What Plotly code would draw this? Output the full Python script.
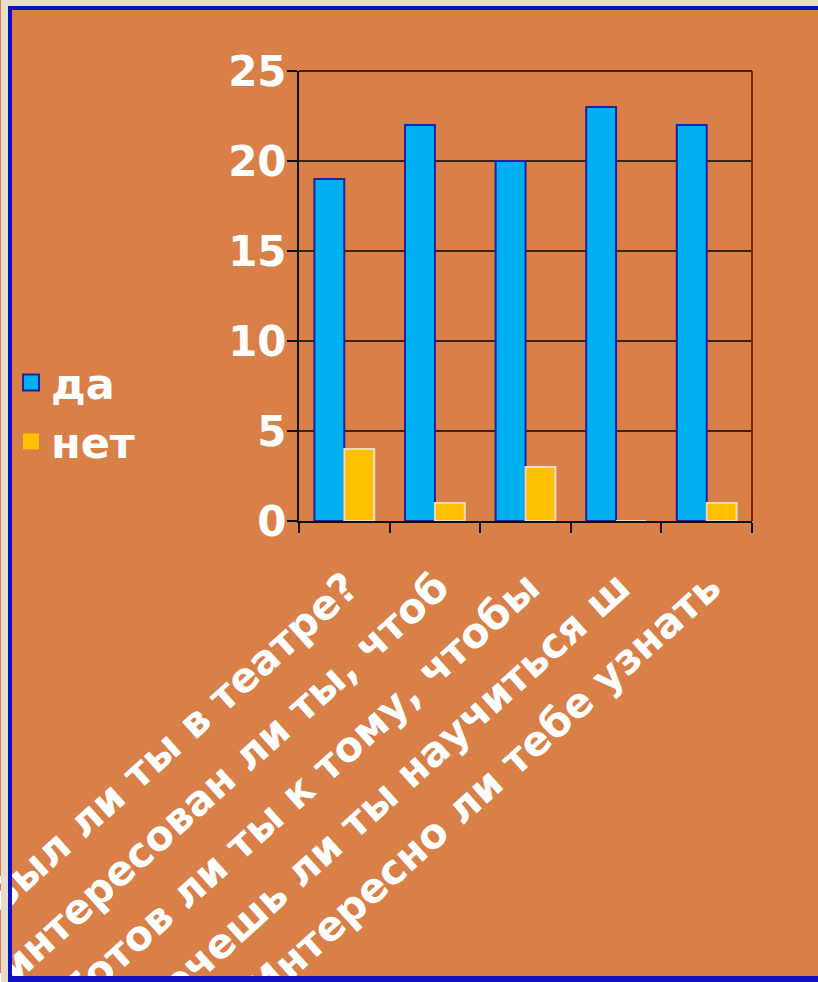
import plotly.graph_objects as go

categories = [
    "Был ли ты в театре?",
    "Заинтересован ли ты, чтоб",
    "Готов ли ты к тому, чтобы",
    "Хочешь ли ты научиться ш",
    "Интересно ли тебе узнать",
]
da_values = [19, 22, 20, 23, 22]
net_values = [4, 1, 3, 0, 1]
series_names = ["да", "нет"]
y_ticks = [0, 5, 10, 15, 20, 25]

ORANGE = "#D97F48"
BEIGE = "#E6DDCB"
FRAME = "#1010C0"
BLUE = "#00B0F0"
YELLOW = "#FFC000"
FONT = "DejaVu Sans"

fig = go.Figure()
fig.add_trace(go.Bar(x=categories, y=da_values, name=series_names[0], showlegend=False,
                     marker=dict(color=BLUE, line=dict(color="#2222A0", width=2))))
fig.add_trace(go.Bar(x=categories, y=net_values, name=series_names[1], showlegend=False,
                     marker=dict(color=YELLOW, line=dict(color="#E9DCC0", width=2))))
# legend entries
fig.add_trace(go.Scatter(x=[None], y=[None], mode="markers", name=series_names[0],
                         marker=dict(symbol="square", size=16, color=BLUE,
                                     line=dict(color="#2222A0", width=2))))
fig.add_trace(go.Scatter(x=[None], y=[None], mode="markers", name=series_names[1],
                         marker=dict(symbol="square", size=16, color=YELLOW,
                                     line=dict(color=YELLOW, width=0))))

W, H = 818, 982
L, R, T, B = 298, 66, 71, 461

fig.update_layout(
    width=W, height=H,
    margin=dict(l=L, r=R, t=T, b=B, pad=0),
    paper_bgcolor=ORANGE,
    plot_bgcolor="rgba(0,0,0,0)",
    barmode="group",
    bargap=0.34,
    bargroupgap=0,
    font=dict(family=FONT, color="white", weight="bold"),
    showlegend=True,
    legend=dict(
        x=(11 - L) / (W - L - R), y=(H - B - 348) / (H - T - B),
        xanchor="left", yanchor="top",
        bgcolor="rgba(0,0,0,0)",
        font=dict(family=FONT, size=43, color="white", weight="bold"),
        itemwidth=30,
        tracegroupgap=0,
    ),
    xaxis=dict(
        type="category",
        tickangle=-42,
        tickfont=dict(family=FONT, size=41, color="white", weight="bold"),
        ticklabelstandoff=24,
        ticklabelshift=3,
        showline=True, linecolor="#111111", linewidth=2,
        ticks="outside", tickson="boundaries", ticklen=10, tickcolor="#111111", tickwidth=2,
        showgrid=False,
        automargin=False,
    ),
    yaxis=dict(
        range=[0, 25],
        tickvals=y_ticks,
        tickfont=dict(family=FONT, size=42, color="white", weight="bold"),
        ticklabelstandoff=-8,
        showline=True, linecolor="#111111", linewidth=2,
        ticks="outside", ticklen=10, tickcolor="#111111", tickwidth=2,
        showgrid=True, gridcolor="#3A2410", gridwidth=2,
        zeroline=False,
        automargin=False,
    ),
    shapes=[
        # top and right border of plot area
        dict(type="line", xref="paper", yref="paper", x0=0, x1=1, y0=1, y1=1,
             line=dict(color="#3A2410", width=2), layer="above"),
        dict(type="line", xref="paper", yref="paper", x0=1, x1=1, y0=0, y1=1,
             line=dict(color="#8A1E05", width=2), layer="above"),
        # slide edges outside the frame
        dict(type="rect", xref="paper", yref="paper", xsizemode="pixel", ysizemode="pixel",
             xanchor=0, yanchor=1, x0=-L, x1=W - L, y0=T, y1=T - 6,
             fillcolor=BEIGE, line=dict(width=0), layer="above"),
        dict(type="rect", xref="paper", yref="paper", xsizemode="pixel", ysizemode="pixel",
             xanchor=0, yanchor=1, x0=-L, x1=-L + 7, y0=T, y1=T - H,
             fillcolor=BEIGE, line=dict(width=0), layer="above"),
        # blue frame lines
        dict(type="rect", xref="paper", yref="paper", xsizemode="pixel", ysizemode="pixel",
             xanchor=0, yanchor=1, x0=-L + 7, x1=W - L, y0=T - 6, y1=T - 10,
             fillcolor=FRAME, line=dict(width=0), layer="above"),
        dict(type="rect", xref="paper", yref="paper", xsizemode="pixel", ysizemode="pixel",
             xanchor=0, yanchor=1, x0=-L + 7, x1=-L + 11, y0=T - 6, y1=T - H,
             fillcolor=FRAME, line=dict(width=0), layer="above"),
        dict(type="rect", xref="paper", yref="paper", xsizemode="pixel", ysizemode="pixel",
             xanchor=0, yanchor=1, x0=-L + 7, x1=W - L, y0=T - 976, y1=T - H,
             fillcolor=FRAME, line=dict(width=0), layer="above"),
    ],
)

fig.write_html("out.html",
               config={"displayModeBar": False},
               post_script="document.body.style.margin='0';document.body.style.overflow='hidden';")
